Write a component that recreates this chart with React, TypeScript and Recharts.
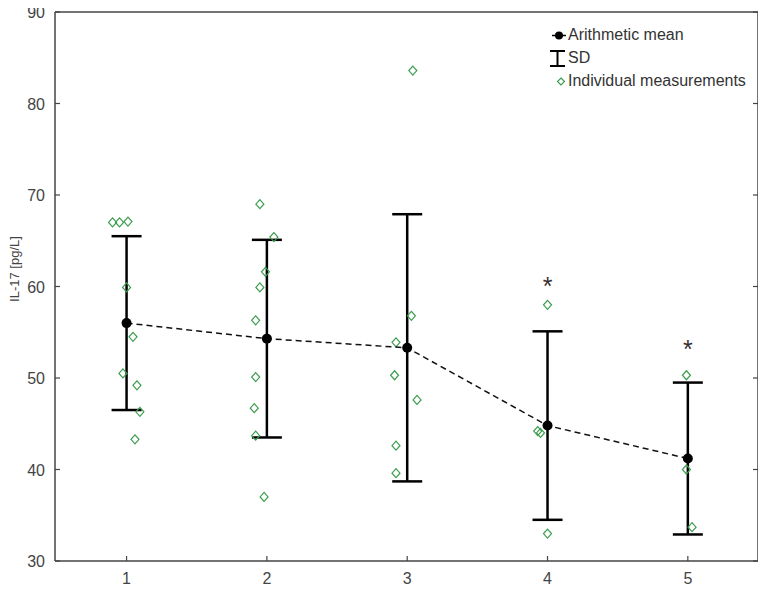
import React from 'react';
import { ComposedChart, Scatter, XAxis, YAxis, ErrorBar } from 'recharts';

// ---------- data ----------
const groups = [1, 2, 3, 4, 5];
const means = [56.0, 54.3, 53.3, 44.8, 41.2];
const sds = [9.5, 10.8, 14.6, 10.3, 8.3];
const xTicks = [1, 2, 3, 4, 5];
const yTicks = [30, 40, 50, 60, 70, 80, 90];

// individual measurements per group (values) and their jittered horizontal positions
const group1Values = [67.0, 67.0, 67.1, 59.9, 54.5, 50.5, 49.2, 46.3, 43.3];
const group1Positions = [0.9, 0.95, 1.01, 1.0, 1.046, 0.974, 1.074, 1.095, 1.06];
const group2Values = [69.0, 65.4, 61.6, 59.9, 56.3, 50.1, 46.7, 43.7, 37.0];
const group2Positions = [1.95, 2.05, 1.99, 1.95, 1.92, 1.92, 1.91, 1.92, 1.98];
const group3Values = [83.6, 56.8, 53.9, 50.3, 47.6, 42.6, 39.6];
const group3Positions = [3.04, 3.03, 2.92, 2.91, 3.07, 2.92, 2.92];
const group4Values = [58.0, 44.2, 44.0, 33.0];
const group4Positions = [4.0, 3.93, 3.95, 4.0];
const group5Values = [50.3, 40.0, 33.7];
const group5Positions = [4.99, 4.99, 5.03];

// significance markers
const starGroups = [4, 5];
const starLevels = [60.5, 53.6];

const legendLabels = ['Arithmetic mean', 'SD', 'Individual measurements'];
const yAxisTitle = 'IL-17 [pg/L]';

// ---------- tables built from the arrays ----------
const meanData = groups.map((g, i) => ({ x: g, y: means[i], sd: sds[i] }));
const allValues = [group1Values, group2Values, group3Values, group4Values, group5Values];
const allPositions = [group1Positions, group2Positions, group3Positions, group4Positions, group5Positions];
const pointData = allValues.flatMap((vals, gi) => vals.map((v, j) => ({ x: allPositions[gi][j], y: v })));
const starData = starGroups.map((g, i) => ({ x: g, y: starLevels[i] }));

const FONT = '"Liberation Sans", Arial, sans-serif';
const AXIS = '#444';
const GREEN = '#3c9d4e';

const Diamond = (p: any) => {
  const { cx, cy } = p;
  return (
    <path
      d={`M${cx},${cy - 4.5}L${cx + 4},${cy}L${cx},${cy + 4.5}L${cx - 4},${cy}Z`}
      fill="none"
      stroke={GREEN}
      strokeWidth={1.2}
    />
  );
};

const MeanDot = (p: any) => <circle cx={p.cx} cy={p.cy} r={5} fill="#000" />;

const Star = (p: any) => (
  <text x={p.cx} y={p.cy + 13} textAnchor="middle" fontSize={25} fill="#3a2e2e" fontFamily={FONT}>
    *
  </text>
);

const BottomTick = (p: any) => (
  <g>
    <line x1={p.x} y1={p.y} x2={p.x} y2={p.y - 5} stroke={AXIS} strokeWidth={1.2} />
    <text x={p.x} y={p.y + 23} textAnchor="middle" fontSize={16} fill={AXIS} fontFamily={FONT}>
      {p.payload.value}
    </text>
  </g>
);
const TopTick = (p: any) => <line x1={p.x} y1={p.y} x2={p.x} y2={p.y + 5} stroke={AXIS} strokeWidth={1.2} />;
const LeftTick = (p: any) => (
  <g>
    <line x1={p.x} y1={p.y} x2={p.x + 5} y2={p.y} stroke={AXIS} strokeWidth={1.2} />
    <text x={p.x - 10} y={p.y + 6} textAnchor="end" fontSize={16} fill={AXIS} fontFamily={FONT}>
      {p.payload.value}
    </text>
  </g>
);
const RightTick = (p: any) => <line x1={p.x} y1={p.y} x2={p.x - 5} y2={p.y} stroke={AXIS} strokeWidth={1.2} />;

const LegendIcon = ({ kind }: { kind: number }) => {
  if (kind === 0)
    return (
      <svg width={19} height={23}>
        <line x1={3} y1={11.5} x2={17} y2={11.5} stroke="#000" strokeWidth={1.5} />
        <circle cx={10} cy={11.5} r={4} fill="#000" />
      </svg>
    );
  if (kind === 1)
    return (
      <svg width={19} height={23}>
        <line x1={8.5} y1={4} x2={8.5} y2={19} stroke="#000" strokeWidth={2} />
        <line x1={1} y1={4} x2={16} y2={4} stroke="#000" strokeWidth={2} />
        <line x1={1} y1={19} x2={16} y2={19} stroke="#000" strokeWidth={2} />
      </svg>
    );
  return (
    <svg width={19} height={23}>
      <path d="M12,8 L15.5,11.5 L12,15 L8.5,11.5 Z" fill="none" stroke={GREEN} strokeWidth={1.2} />
    </svg>
  );
};

export default function App() {
  return (
    <div style={{ position: 'relative', width: 766, height: 588, margin: '-8px 0 0 -8px', background: '#fff' }}>
      <ComposedChart
        width={766}
        height={588}
        margin={{ top: 11, right: 7, bottom: 0, left: 0 }}
        style={{ fontFamily: FONT }}
      >
        <XAxis
          xAxisId={0}
          type="number"
          dataKey="x"
          domain={[0.49, 5.5]}
          allowDataOverflow
          ticks={xTicks}
          interval={0}
          height={27}
          tickSize={0}
          tickMargin={0}
          tickLine={false}
          axisLine={{ stroke: AXIS, strokeWidth: 1.5 }}
          tick={BottomTick}
        />
        <XAxis
          xAxisId="top"
          orientation="top"
          type="number"
          domain={[0.49, 5.5]}
          allowDataOverflow
          ticks={xTicks}
          interval={0}
          height={1}
          tickSize={0}
          tickMargin={0}
          tickLine={false}
          axisLine={{ stroke: AXIS, strokeWidth: 1.5 }}
          tick={TopTick}
        />
        <YAxis
          yAxisId={0}
          type="number"
          dataKey="y"
          domain={[30, 90]}
          allowDataOverflow
          ticks={yTicks}
          interval={0}
          width={55}
          tickSize={0}
          tickMargin={0}
          tickLine={false}
          axisLine={{ stroke: AXIS, strokeWidth: 1.5 }}
          tick={LeftTick}
        />
        <YAxis
          yAxisId="right"
          orientation="right"
          type="number"
          domain={[30, 90]}
          allowDataOverflow
          ticks={yTicks}
          interval={0}
          width={1}
          tickSize={0}
          tickMargin={0}
          tickLine={false}
          axisLine={{ stroke: AXIS, strokeWidth: 1.5 }}
          tick={RightTick}
        />
        <Scatter data={pointData} dataKey="y" shape={Diamond} isAnimationActive={false} />
        <Scatter
          data={meanData}
          dataKey="y"
          shape={MeanDot}
          line={{ stroke: '#111', strokeWidth: 1.5, strokeDasharray: '6 4' }}
          lineType="joint"
          isAnimationActive={false}
        >
          <ErrorBar dataKey="sd" direction="y" width={15} stroke="#000" strokeWidth={2.5} isAnimationActive={false} />
        </Scatter>
        <Scatter data={starData} dataKey="y" shape={Star} isAnimationActive={false} />
      </ComposedChart>
      <div
        style={{
          position: 'absolute',
          left: 14,
          top: 269,
          transform: 'translate(-50%, -50%) rotate(-90deg)',
          fontFamily: FONT,
          fontSize: 13,
          lineHeight: '15px',
          color: AXIS,
          whiteSpace: 'nowrap',
        }}
      >
        {yAxisTitle}
      </div>
      <div
        style={{
          position: 'absolute',
          left: 549,
          top: 23.5,
          fontFamily: FONT,
          fontSize: 16,
          color: '#333',
        }}
      >
        {legendLabels.map((lab, i) => (
          <div key={lab} style={{ display: 'flex', alignItems: 'center', height: 23, whiteSpace: 'nowrap' }}>
            <LegendIcon kind={i} />
            <span>{lab}</span>
          </div>
        ))}
      </div>
    </div>
  );
}
